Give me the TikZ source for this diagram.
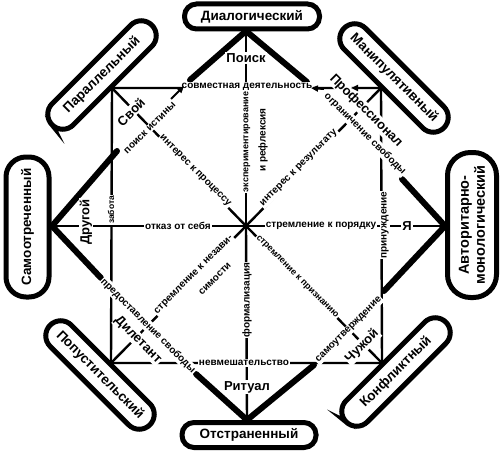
\documentclass[tikz,border=0pt]{standalone}
\usepackage{fontspec}
\setmainfont{Liberation Sans}
\usetikzlibrary{arrows.meta}
\begin{document}
\begin{tikzpicture}[x=1pt,y=-1pt,
  thinline/.style={line width=2.4pt},
  thickline/.style={line width=6pt, line cap=round, line join=round},
  box/.style={draw, line width=5pt, fill=white, font=\bfseries\fontsize{13.5}{15}\selectfont, inner sep=0pt},
  cbox/.style={box, minimum width=141pt, minimum height=30pt, rounded corners=15pt},
  big/.style={font=\bfseries\fontsize{13}{14}\selectfont, fill=white, inner sep=1pt},
  lbl/.style={font=\bfseries\fontsize{10}{11}\selectfont, fill=white, inner sep=1pt},
  tip/.style={line width=2pt, -{Triangle[length=7pt,width=6pt]}},
]
\useasboundingbox (0,0) rectangle (501,452);
% key points
\coordinate (C) at (246,226);
\coordinate (TL) at (112,88);
\coordinate (TR) at (381,88);
\coordinate (BR) at (382,363);
\coordinate (BL) at (111,363);
\coordinate (T) at (246,31);
\coordinate (R) at (445,226);
\coordinate (B) at (247,420);
\coordinate (L) at (52,226);
% ends of thick diamond pieces
\coordinate (tl1) at (190,80);
\coordinate (tr1) at (307,82);
\coordinate (rt1) at (402,179);
\coordinate (rb1) at (384,291);
\coordinate (br1) at (314,365);
\coordinate (bl1) at (196,374);
\coordinate (lb1) at (101,278);
\coordinate (lt1) at (117,151);
% square
\draw[thinline] (TL) -- (TR) -- (BR) -- (BL) -- cycle;
% radial lines
\foreach \p in {TL,TR,BR,BL,T,R,B,L} \draw[thinline] (C) -- (\p);
% diamond (thick parts)
\draw[thickline] (tl1) -- (T) -- (tr1);
\draw[thickline] (rt1) -- (R) -- (rb1);
\draw[thickline] (br1) -- (B) -- (bl1);
\draw[thickline] (lb1) -- (L) -- (lt1);
% boxes
\node[box, minimum width=135pt, minimum height=25pt, rounded corners=12pt] (dial) at (252,16.5) {Диалогический};
\node[box, minimum width=134pt, minimum height=25pt, rounded corners=12pt] (otst) at (249,435) {Отстраненный};
\node[box, rotate=90, minimum width=140pt, minimum height=43pt, rounded corners=20pt] (samo) at (27.5,227) {Самоотреченный};
\node[box, rotate=90, minimum width=145pt, minimum height=49pt, rounded corners=23pt, align=center, font=\bfseries\fontsize{14.5}{16}\selectfont] (avt) at (472,225) {Авторитарно-\\монологический};
\node[cbox, rotate=45] (par) at (102,75) {Параллельный};
\node[cbox, rotate=-45] (man) at (394,78) {Манипулятивный};
\node[cbox, rotate=-45] (pop) at (100,375) {Попустительский};
\node[cbox, rotate=45] (konf) at (396,372) {Конфликтный};
% small labels
\node[lbl] (sovm) at (247,87) {совместная деятельность};
\node[lbl] (nevm) at (244,363) {невмешательство};
\node[lbl, rotate=90, font=\bfseries\fontsize{8.5}{10}\selectfont] (zab) at (111,210) {забота};
\node[lbl, rotate=90] (prin) at (385,225) {принуждение};
\node[lbl] (otk) at (178,226) {отказ от себя};
\node[lbl] (por) at (321,226) {стремление к порядку};
\node[lbl, rotate=90, font=\bfseries\fontsize{9}{10}\selectfont] (eksp) at (247,142) {экспериментирование};
\node[lbl, rotate=90] (refl) at (263,140) {и рефлексия};
\node[lbl, rotate=90] (form) at (247,300) {формализация};
\node[lbl, rotate=-45] (proc) at (195,171) {интерес к процессу};
\node[lbl, rotate=45] (rez) at (299,168) {интерес к результату};
\node[lbl, rotate=-45, font=\bfseries\fontsize{9}{10}\selectfont] (priz) at (297,277) {стремление к признанию};
\node[lbl, rotate=45] (nez) at (194,275) {стремление к незави-};
\node[lbl, rotate=45] (sim) at (215,279) {симости};
\node[lbl, rotate=45] (poisk) at (150,128) {поиск истины};
\node[lbl, rotate=-45] (ogr) at (365,134) {ограничение свободы};
\node[lbl, rotate=45] (samout) at (349,330) {самоутверждение};
\node[lbl, rotate=-45] (pred) at (148,326) {предоставление свободы};
% big labels
\node[big] (poiskT) at (246,58) {Поиск};
\node[big] (rit) at (247,387) {Ритуал};
\node[big] (ya) at (407,226) {Я};
\node[big, rotate=90] (drug) at (86,222) {Другой};
\node[big, rotate=45] (svoi) at (131,112) {Свой};
\node[big, rotate=-45] (prof) at (366,111) {Профессионал};
\node[big, rotate=45] (chuzh) at (362,346) {Чужой};
\node[big, rotate=-45] (dil) at (138,340) {Дилетант};
% arrow tips
\coordinate (a1s) at (171,99);
\coordinate (a1e) at (184,86);
\coordinate (a2s) at (324,89);
\coordinate (a2e) at (311,88);
\coordinate (a3s) at (362,88);
\coordinate (a3e) at (351,88);
\draw[tip] (a1s) -- (a1e);
\draw[tip] (a2s) -- (a2e);
\draw[tip] (a3s) -- (a3e);
\end{tikzpicture}
\end{document}
